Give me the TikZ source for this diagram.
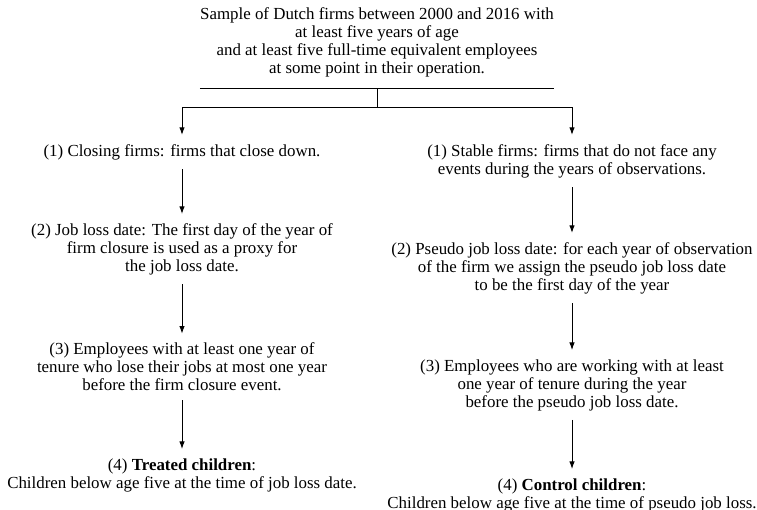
\documentclass[tikz,border=0pt]{standalone}
\usepackage{fontspec}
\setmainfont{Liberation Serif}
\usetikzlibrary{arrows.meta}

\begin{document}
\begin{tikzpicture}[x=0.663pt,y=-0.663pt,
  step text/.style={align=center, inner xsep=0pt, inner ysep=6pt, font=\fontsize{11.2}{11.9}\selectfont},
  flow/.style={-{Latex[length=5pt,width=3.6pt]}, line width=0.6pt}]
%\draw[step=50,gray,very thin] (0,0) grid (757,510);
\useasboundingbox (0,0) rectangle (757,510);
\node[step text, inner ysep=7.5pt] (sample) at (377,42.5) {Sample of Dutch firms between 2000 and 2016 with\\ at least five years of age\\ and at least five full-time equivalent employees\\ at some point in their operation.};
% closing firms (left)
\node[step text] (close1) at (182,152) {(1) Closing firms: firms that close down.};
\node[step text] (close2) at (182,249) {(2) Job loss date: The first day of the year of\\ firm closure is used as a proxy for\\ the job loss date.};
\node[step text] (close3) at (182,367) {(3) Employees with at least one year of\\ tenure who lose their jobs at most one year\\ before the firm closure event.};
\node[step text] (treated) at (182,475) {(4) \textbf{Treated children}:\\ Children below age five at the time of job loss date.};
% stable firms (right)
\node[step text] (stable1) at (572,161) {(1) Stable firms: firms that do not face any\\ events during the years of observations.};
\node[step text] (stable2) at (572,268) {(2) Pseudo job loss date: for each year of observation\\ of the firm we assign the pseudo job loss date\\ to be the first day of the year};
\node[step text] (stable3) at (572,385) {(3) Employees who are working with at least\\ one year of tenure during the year\\ before the pseudo job loss date.};
\node[step text] (control) at (572,495) {(4) \textbf{Control children}:\\ Children below age five at the time of pseudo job loss.};
% split
\draw[line width=0.6pt] (sample.south west) -- (sample.south east);
\draw[line width=0.6pt] (sample.south) -- ++(0,19) coordinate (split);
\draw[flow] (split) -| (close1);
\draw[flow] (split) -| (stable1);
\draw[flow] (close1) -- (close2);
\draw[flow] (close2) -- (close3);
\draw[flow] (close3) -- (treated);
\draw[flow] (stable1) -- (stable2);
\draw[flow] (stable2) -- (stable3);
\draw[flow] (stable3) -- (control);
\end{tikzpicture}
\end{document}
